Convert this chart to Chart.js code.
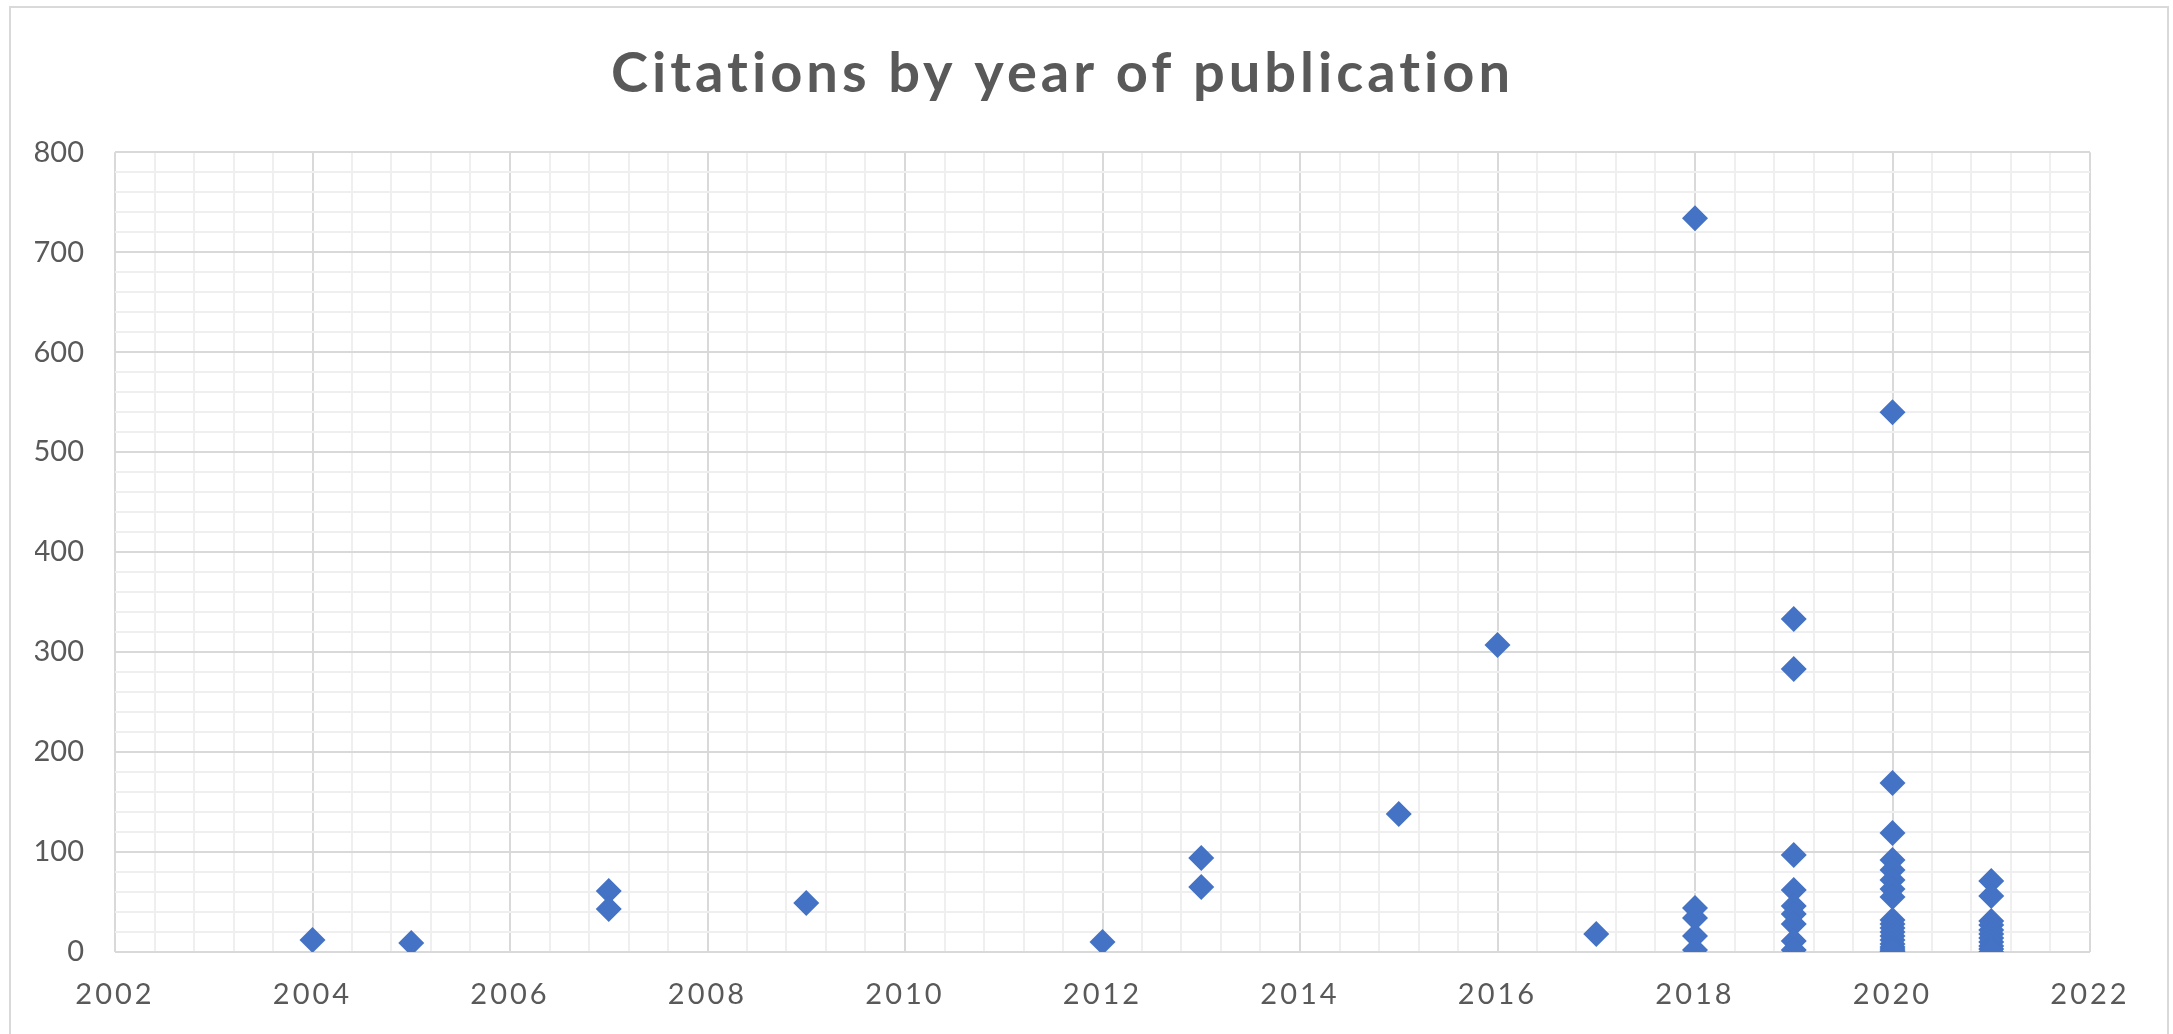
<!DOCTYPE html>
<html>
<head>
<meta charset="utf-8">
<title>Citations by year of publication</title>
<script src="https://cdn.jsdelivr.net/npm/chart.js@4.4.1/dist/chart.umd.min.js"></script>
<style>
  html, body { margin: 0; padding: 0; background: #fff; }
</style>
</head>
<body>
<canvas id="citations-chart" width="2173" height="1034"></canvas>
<script>
// one entry per paper: year of publication and its citation count
const pubYears = [
  2004, 2005, 2007, 2007, 2009, 2012, 2013, 2013, 2015, 2016, 2017,
  2018, 2018, 2018, 2018, 2018,
  2019, 2019, 2019, 2019, 2019, 2019, 2019, 2019, 2019,
  2020, 2020, 2020, 2020, 2020, 2020, 2020, 2020, 2020, 2020,
  2020, 2020, 2020, 2020, 2020, 2020, 2020, 2020, 2020,
  2021, 2021, 2021, 2021, 2021, 2021, 2021, 2021, 2021, 2021, 2021
];
const citations = [
  12, 9, 61, 43, 49, 10, 94, 65, 138, 307, 18,
  734, 44, 34, 16, 2,
  333, 283, 97, 62, 46, 38, 28, 11, 2,
  540, 169, 119, 92, 82, 72, 63, 55, 32, 28,
  24, 20, 16, 12, 8, 5, 3, 1, 0,
  71, 56, 31, 27, 22, 18, 14, 10, 6, 3, 0
];

const yearTicks = [2002, 2004, 2006, 2008, 2010, 2012, 2014, 2016, 2018, 2020, 2022];
const citationTicks = [0, 100, 200, 300, 400, 500, 600, 700, 800];

const textGrey = '#595959';
const markerBlue = '#4472C4';
const majorGrid = '#d9d9d9';
const minorGrid = '#efefef';

function isMajor(list, v) {
  return list.some(t => Math.abs(t - v) < 1e-6);
}

// white sheet with a thin frame round the whole chart
const chartFrame = {
  id: 'chartFrame',
  beforeDraw(chart) {
    const ctx = chart.ctx;
    ctx.save();
    ctx.fillStyle = '#fff';
    ctx.fillRect(0, 0, chart.width, chart.height);
    ctx.strokeStyle = '#d9d9d9';
    ctx.lineWidth = 2;
    ctx.strokeRect(10, 7, 2158, 1040);
    ctx.restore();
  }
};

// wrap a draw method so its text comes out letter-spaced
function spaceOut(target, method, spacing) {
  if (!target || target['_spaced_' + method]) return;
  const orig = target[method];
  target[method] = function (...args) {
    const ctx = this.ctx;
    ctx.save();
    ctx.letterSpacing = spacing;
    orig.apply(this, args);
    ctx.restore();
  };
  target['_spaced_' + method] = true;
}

const spacedText = {
  id: 'spacedText',
  beforeDraw(chart) {
    spaceOut(chart.scales.x, 'drawLabels', '3px');
    spaceOut(chart.titleBlock, 'draw', '4px');
  }
};

const tickFont = { family: 'Lato', size: 29 };

new Chart(document.getElementById('citations-chart'), {
  type: 'scatter',
  data: {
    datasets: [{
      label: 'Citations',
      data: pubYears.map((x, i) => ({ x: x, y: citations[i] })),
      pointStyle: 'rectRot',
      pointRadius: 13,
      pointHoverRadius: 13,
      backgroundColor: markerBlue,
      borderColor: markerBlue,
      borderWidth: 0
    }]
  },
  plugins: [chartFrame, spacedText],
  options: {
    responsive: false,
    animation: false,
    devicePixelRatio: 1,
    layout: { padding: { left: 35, right: 83, top: 0, bottom: 0 } },
    plugins: {
      legend: { display: false },
      tooltip: { enabled: false },
      title: {
        display: true,
        text: 'Citations by year of publication',
        color: textGrey,
        font: { family: 'Lato', size: 56, weight: 'bold', lineHeight: 1.2 },
        padding: { top: 40, bottom: 45 }
      }
    },
    scales: {
      x: {
        type: 'linear',
        min: 2002,
        max: 2022,
        afterFit: s => { s.height = 82; },
        ticks: {
          stepSize: 0.4,
          autoSkip: false,
          maxRotation: 0,
          color: textGrey,
          font: tickFont,
          padding: 25,
          callback: v => isMajor(yearTicks, v) ? String(Math.round(v)) : ''
        },
        grid: {
          drawTicks: false,
          lineWidth: 2,
          color: c => isMajor(yearTicks, c.tick.value) ? majorGrid : minorGrid
        },
        border: { display: false }
      },
      y: {
        min: 0,
        max: 800,
        afterFit: s => { s.width = 80; },
        ticks: {
          stepSize: 20,
          autoSkip: false,
          color: textGrey,
          font: tickFont,
          padding: 31,
          callback: v => isMajor(citationTicks, v) ? String(v) : ''
        },
        grid: {
          drawTicks: false,
          lineWidth: 2,
          color: c => isMajor(citationTicks, c.tick.value) ? majorGrid : minorGrid
        },
        border: { display: false }
      }
    }
  }
});
</script>
</body>
</html>
